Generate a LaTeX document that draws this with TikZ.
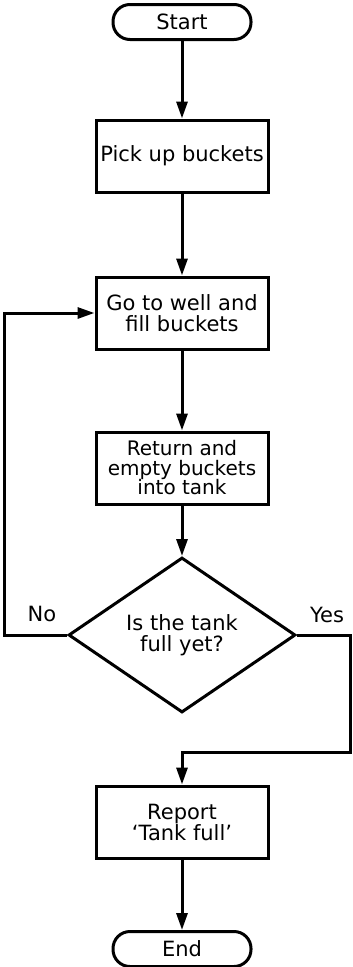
\documentclass[tikz,border=0pt]{standalone}
\usepackage{fontspec}
\setmainfont{DejaVu Sans}
\usetikzlibrary{arrows.meta,shapes.geometric}

\begin{document}
\begin{tikzpicture}[x=1pt,y=-1pt,
    line width=3pt,
    flowarrow/.style={-{Triangle[length=17pt,width=11pt]}},
    terminal/.style={draw, rectangle, rounded corners=17pt, minimum width=138pt,
        minimum height=35pt, inner sep=0pt, font=\fontsize{21}{21}\selectfont},
    process/.style={draw, rectangle, minimum width=172pt, minimum height=72pt,
        inner sep=0pt, align=center, font=\fontsize{21}{21}\selectfont},
    decision/.style={draw, diamond, minimum width=227pt, minimum height=155pt,
        inner sep=0pt, align=center, font=\fontsize{21}{21}\selectfont}]
    \useasboundingbox (0,0) rectangle (353,967);

    % Terminals
    \node[terminal] (start) at (182,22)  {Start};
    \node[terminal] (end)   at (182,949) {End};

    % Process boxes
    \node[process] (pick)   at (182,156) {Pick up buckets};
    \node[process] (fill)   at (182,313) {Go to well and\\fill buckets};
    \node[process, font=\fontsize{20}{19.5}\selectfont]
                   (empty)  at (182,468) {Return and\\empty buckets\\into tank};
    \node[process] (report) at (182,822) {Report\\‘Tank full’};

    % Test
    \node[decision] (full) at (182,635) {Is the tank\\full yet?};

    % Branch labels
    \node[font=\fontsize{21}{21}\selectfont] (nolabel)  at (42,614)  {No};
    \node[font=\fontsize{21}{21}\selectfont] (yeslabel) at (327,615) {Yes};

    % Turning points of the two branches
    \coordinate (loopx)   at (4,0);
    \coordinate (yesturn) at (350,752);

    % Main flow
    \draw[flowarrow] (start) -- (pick);
    \draw[flowarrow] (pick)  -- (fill);
    \draw[flowarrow] (fill)  -- (empty);
    \draw[flowarrow] (empty) -- (full);

    % No: back to the well
    \draw[flowarrow] (full.west) -- (full.west -| loopx) |- (fill.west);
    % Yes: on to the report
    \draw[flowarrow] (full.east) -| (yesturn) -| (report.north);

    \draw[flowarrow] (report) -- (end);
\end{tikzpicture}
\end{document}
